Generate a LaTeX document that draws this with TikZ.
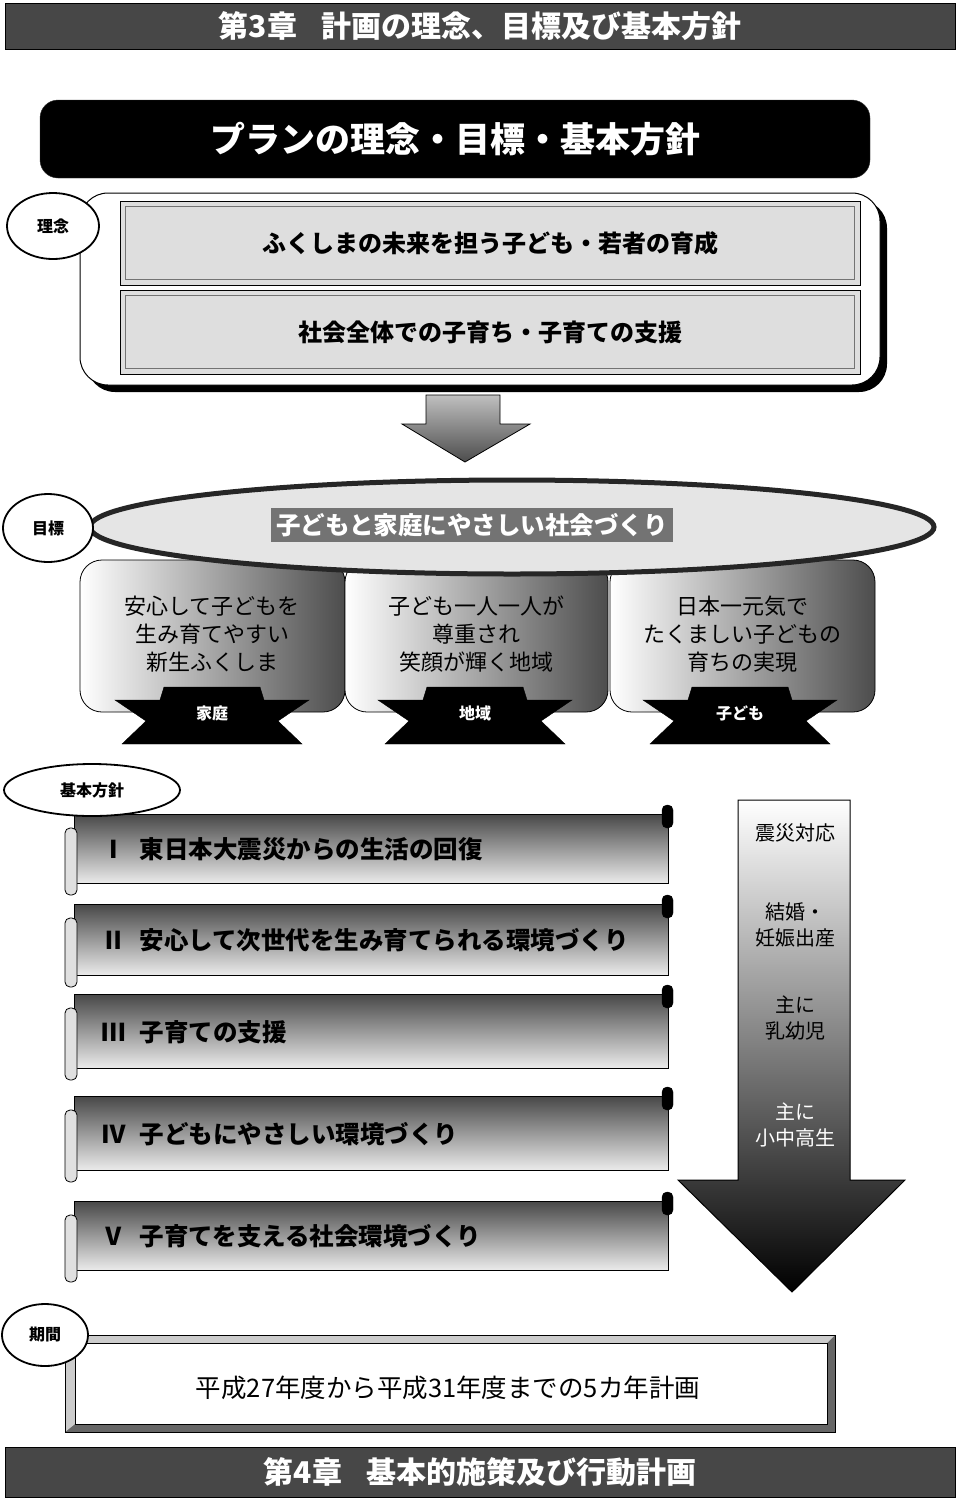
\documentclass[tikz,border=0pt]{standalone}
\usepackage{fontspec}
\setmainfont{Noto Sans CJK JP}
\usetikzlibrary{shapes.geometric}
\newcommand\FS[2]{\fontsize{#1}{#2}\selectfont}
\begin{document}
\begin{tikzpicture}[x=1pt,y=-1pt,
 hdr/.style={draw=black,line width=1pt,fill=black!72,minimum width=950pt,inner sep=0pt,text=white,font=\bfseries\FS{30}{36}},
 lbl/.style={ellipse,draw=black,line width=1.8pt,fill=white,inner sep=0pt,font=\bfseries\FS{16}{20}},
 panel/.style={draw=black,line width=0.8pt,fill=black!13,minimum width=740pt,minimum height=84pt,inner sep=0pt,font=\bfseries\FS{24}{30}},
 goalbox/.style={draw=black,line width=0.8pt,rounded corners=22pt,left color=white,middle color=black!15,right color=black!70},
 goaltxt/.style={align=center,font=\FS{22}{28}},
 ribbon/.style={fill=black,draw=black},
 ribtxt/.style={text=white,font=\bfseries\FS{16}{20}},
 polbody/.style={draw=black,line width=0.8pt,top color=black!72,bottom color=black!8},
 poltxt/.style={anchor=west,font=\bfseries\FS{24.5}{30}},
 arrtxt/.style={align=center,font=\FS{20}{26}},
]
\fill[white] (0,0) rectangle (960,1500);
\useasboundingbox (0,0) rectangle (960,1500);

% chapter header
\node[hdr,minimum height=46pt] (h3) at (480,26) {第3章\hspace{0.8em}計画の理念、目標及び基本方針};

% title
\node[draw=black!80,fill=black,rounded corners=18pt,minimum width=830pt,minimum height=78pt,text=white,font=\bfseries\FS{35}{40}] (title) at (455,139) {プランの理念・目標・基本方針};

% rinen
\fill[black,rounded corners=28pt] (87,200) rectangle (887,392);
\draw[fill=white,line width=1pt,rounded corners=28pt] (80,193) rectangle (880,385);
\node[panel] (pA) at (490,243) {ふくしまの未来を担う子ども・若者の育成};
\node[panel] (pB) at (490,332) {社会全体での子育ち・子育ての支援};
\draw[black!55,line width=1.5pt] ([shift={(6,6)}]pA.north west) rectangle ([shift={(-6,-6)}]pA.south east);
\draw[black!55,line width=1.5pt] ([shift={(6,6)}]pB.north west) rectangle ([shift={(-6,-6)}]pB.south east);
\node[lbl,minimum width=92pt,minimum height=66pt] (rinen) at (53,226) {理念};

% down arrow
\draw[top color=black!25,bottom color=black!70,line width=0.8pt] (426,395) -- (500,395) -- (500,424) -- (530,424) -- (465,462) -- (402,424) -- (426,424) -- cycle;

% goal boxes
\draw[goalbox] (80,560) rectangle (345,712);
\draw[goalbox] (345,560) rectangle (608,712);
\draw[goalbox] (610,560) rectangle (875,712);
\node[goaltxt] (g1) at (212,634) {安心して子どもを\\生み育てやすい\\新生ふくしま};
\node[goaltxt] (g2) at (476,634) {子ども一人一人が\\尊重され\\笑顔が輝く地域};
\node[goaltxt] (g3) at (742,634) {日本一元気で\\たくましい子どもの\\育ちの実現};
\foreach \cx/\nm/\lab in {212/r1/家庭,475/r2/地域,740/r3/子ども} {
  \draw[ribbon] (\cx-48,687) -- (\cx+48,687) -- (\cx+52,700) -- (\cx+97,700) -- (\cx+66,721) -- (\cx+90,744) -- (\cx-90,744) -- (\cx-66,721) -- (\cx-97,700) -- (\cx-52,700) -- cycle;
  \node[ribtxt] (\nm) at (\cx,713) {\lab};
}

% goal ellipse
\draw[line width=5pt,draw=black!85,fill=black!10] (512,527) ellipse [x radius=422, y radius=47];
\node[fill=black!55,text=white,font=\bfseries\FS{24.5}{30},inner sep=5pt] (goal) at (472,525) {子どもと家庭にやさしい社会づくり};
\node[lbl,minimum width=90pt,minimum height=68pt] (mokuhyo) at (48,528) {目標};

% policies
\foreach \t/\b/\nm/\num/\txt in {808/883/s1/Ⅰ/東日本大震災からの生活の回復, 898/975/s2/Ⅱ/安心して次世代を生み育てられる環境づくり, 988/1068/s3/Ⅲ/子育ての支援, 1090/1170/s4/Ⅳ/子どもにやさしい環境づくり, 1195/1270/s5/Ⅴ/子育てを支える社会環境づくり} {
  \draw[polbody] (74,\t+6) -- (668,\t+6) -- (668,\b) -- (74,\b) -- cycle;
  \draw[fill=black,rounded corners=5pt] (662,\t-3) rectangle (673,\t+20);
  \draw[fill=black!12,rounded corners=5pt,line width=0.8pt] (65,\t+20) rectangle (77,\b+12);
  \node[poltxt] (\nm) at (98,{(\t+\b)/2+4}) {\num\hspace{0.55em}\txt};
}
\node[lbl,minimum width=176pt,minimum height=52pt] (kihon) at (92,790) {基本方針};

% right arrow
\draw[line width=1pt,top color=white,middle color=black!55,bottom color=black] (738,800) -- (850,800) -- (850,1180) -- (905,1180) -- (792,1292) -- (678,1180) -- (738,1180) -- cycle;
\node[arrtxt] (a1) at (795,833) {震災対応};
\node[arrtxt] (a2) at (795,925) {結婚・\\妊娠出産};
\node[arrtxt] (a3) at (795,1018) {主に\\乳幼児};
\node[arrtxt,text=white] (a4) at (795,1125) {主に\\小中高生};

% period
\fill[black!60] (65,1335) rectangle (835,1432);
\fill[black!20] (65,1335) -- (835,1335) -- (827,1343) -- (75,1343) -- (75,1424) -- (65,1432) -- cycle;
\draw[line width=0.8pt] (65,1335) rectangle (835,1432);
\draw[fill=white,line width=0.8pt] (75,1343) rectangle (827,1424);
\node[font=\FS{25.5}{30}] (per) at (448,1388) {平成27年度から平成31年度までの5カ年計画};
\node[lbl,minimum width=86pt,minimum height=62pt] (kikan) at (45,1335) {期間};

% chapter 4 header
\node[hdr,minimum height=50pt] (h4) at (480,1472) {第4章\hspace{0.8em}基本的施策及び行動計画};
\end{tikzpicture}
\end{document}
